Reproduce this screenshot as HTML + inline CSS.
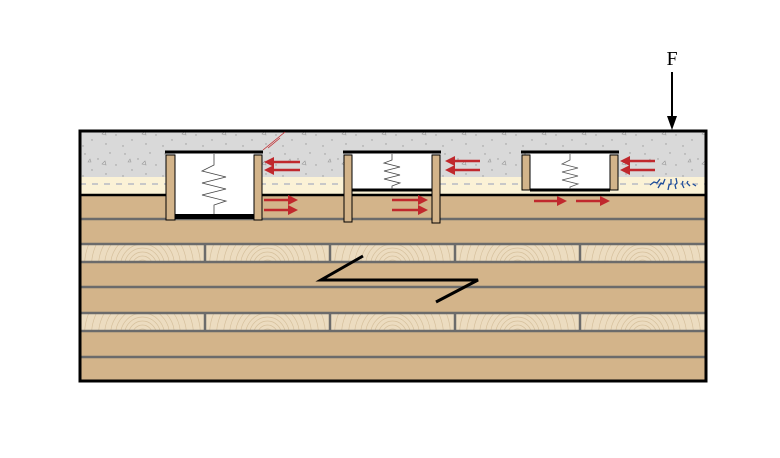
<!DOCTYPE html>
<html><head><style>body{margin:0;background:#fff}svg{display:block}</style></head><body>
<svg width="780" height="458" viewBox="0 0 780 458" xmlns="http://www.w3.org/2000/svg">
<defs>
<pattern id="conc" width="40" height="30" patternUnits="userSpaceOnUse">
<rect width="40" height="30" fill="#d9d9d9"/>
<g fill="#999"><circle cx="5" cy="4" r="0.7"/><circle cx="18" cy="9" r="0.7"/><circle cx="30" cy="3" r="0.7"/><circle cx="12" cy="20" r="0.7"/><circle cx="26" cy="24" r="0.7"/><circle cx="36" cy="15" r="0.7"/><circle cx="3" cy="26" r="0.7"/></g>
<path d="M22 14 l3 -3 l1 4 z M8 12 l2 -3 l1 3z" fill="none" stroke="#999" stroke-width="0.6"/>
</pattern>
<pattern id="grain" width="125" height="18" patternUnits="userSpaceOnUse" x="80" y="244">
<rect width="125" height="18" fill="#ecdcc0"/>
<g fill="none" stroke="#d6c09c" stroke-width="0.7">
<circle cx="62.5" cy="22" r="6"/><circle cx="62.5" cy="22" r="10"/><circle cx="62.5" cy="22" r="14"/><circle cx="62.5" cy="22" r="18"/><circle cx="62.5" cy="22" r="22"/><circle cx="62.5" cy="22" r="27"/><circle cx="62.5" cy="22" r="32"/><circle cx="62.5" cy="22" r="38"/><circle cx="62.5" cy="22" r="44"/><circle cx="62.5" cy="22" r="51"/><circle cx="62.5" cy="22" r="58"/>
</g></pattern>
<pattern id="grain2" width="125" height="18" patternUnits="userSpaceOnUse" x="80" y="313">
<rect width="125" height="18" fill="#ecdcc0"/>
<g fill="none" stroke="#d6c09c" stroke-width="0.7">
<circle cx="62.5" cy="22" r="6"/><circle cx="62.5" cy="22" r="10"/><circle cx="62.5" cy="22" r="14"/><circle cx="62.5" cy="22" r="18"/><circle cx="62.5" cy="22" r="22"/><circle cx="62.5" cy="22" r="27"/><circle cx="62.5" cy="22" r="32"/><circle cx="62.5" cy="22" r="38"/><circle cx="62.5" cy="22" r="44"/><circle cx="62.5" cy="22" r="51"/><circle cx="62.5" cy="22" r="58"/>
</g></pattern>
</defs>
<text x="672" y="65" font-family="Liberation Serif, serif" font-size="20" text-anchor="middle">F</text>
<line x1="672" y1="72" x2="672" y2="118" stroke="#000" stroke-width="2"/>
<polygon points="667,116 677,116 672,130" fill="#000"/>
<rect x="80" y="131" width="626" height="250" fill="#d3b48a"/>
<rect x="80" y="131" width="626" height="46" fill="url(#conc)"/>
<rect x="80" y="177" width="626" height="18" fill="#fbf2d6"/>
<line x1="80" y1="184" x2="706" y2="184" stroke="#c8c8c8" stroke-width="2" stroke-dasharray="6,6"/>
<rect x="81" y="244" width="624" height="18" fill="url(#grain)"/>
<rect x="81" y="313" width="624" height="18" fill="url(#grain2)"/>
<g stroke="#6b6b6b" stroke-width="2.5">
<line x1="80" y1="219" x2="706" y2="219"/><line x1="80" y1="244" x2="706" y2="244"/><line x1="80" y1="262" x2="706" y2="262"/>
<line x1="80" y1="287" x2="706" y2="287"/><line x1="80" y1="313" x2="706" y2="313"/><line x1="80" y1="331" x2="706" y2="331"/><line x1="80" y1="357" x2="706" y2="357"/>
<path d="M205 244V262M330 244V262M455 244V262M580 244V262M205 313V331M330 313V331M455 313V331M580 313V331"/>
</g>
<line x1="80" y1="195" x2="706" y2="195" stroke="#000" stroke-width="2.5"/>
<rect x="80" y="131" width="626" height="250" fill="none" stroke="#000" stroke-width="3"/>
<rect x="175" y="153" width="79" height="65" fill="#fff"/>
<rect x="175" y="214" width="79" height="5" fill="#000"/>
<line x1="165" y1="152" x2="263" y2="152" stroke="#000" stroke-width="3"/>
<rect x="166" y="155" width="9" height="65" fill="#d3b48a" stroke="#000"/>
<rect x="254" y="155" width="8" height="65" fill="#d3b48a" stroke="#000"/>
<path d="M214 154V165L202 171L226 177L202 183L226 189L202 195L226 201L214 205V214" fill="none" stroke="#444" stroke-width="0.8"/>
<rect x="352" y="153" width="80" height="37" fill="#fff"/>
<line x1="352" y1="190" x2="432" y2="190" stroke="#000" stroke-width="3"/>
<line x1="343" y1="152" x2="441" y2="152" stroke="#000" stroke-width="3"/>
<rect x="344" y="155" width="8" height="67" fill="#d3b48a" stroke="#000"/>
<rect x="432" y="155" width="8" height="68" fill="#d3b48a" stroke="#000"/>
<path d="M392 154V160L384 163L400 167L384 171L400 175L384 179L400 183L392 186V189" fill="none" stroke="#444" stroke-width="0.8"/>
<rect x="530" y="153" width="80" height="37" fill="#fff"/>
<line x1="530" y1="190" x2="610" y2="190" stroke="#000" stroke-width="3"/>
<line x1="521" y1="152" x2="619" y2="152" stroke="#000" stroke-width="3"/>
<rect x="522" y="155" width="8" height="35" fill="#d3b48a" stroke="#000"/>
<rect x="610" y="155" width="8" height="35" fill="#d3b48a" stroke="#000"/>
<path d="M570 154V160L562 164L578 168L562 172L578 176L562 180L578 184L570 187V189" fill="none" stroke="#555" stroke-width="0.8"/>
<g fill="#c0282d" stroke="#c0282d" stroke-width="2.5">
<path d="M300 162H270M300 170H270M264 200H292M264 210H292M480 161H452M480 170H452M392 200H422M392 210H422M655 161H626M655 170H626M534 201H560M576 201H602"/>
<g stroke="none">
<polygon points="264,162 274,157 274,167"/><polygon points="264,170 274,165 274,175"/>
<polygon points="298,200 288,195 288,205"/><polygon points="298,210 288,205 288,215"/>
<polygon points="445,161 455,156 455,166"/><polygon points="445,170 455,165 455,175"/>
<polygon points="428,200 418,195 418,205"/><polygon points="428,210 418,205 418,215"/>
<polygon points="620,161 630,156 630,166"/><polygon points="620,170 630,165 630,175"/>
<polygon points="567,201 557,196 557,206"/><polygon points="610,201 600,196 600,206"/>
</g></g>
<path d="M263 150L285 132M268 148L280 138" stroke="#c0282d" stroke-width="0.8" fill="none"/>
<g stroke="#1f4e9a" stroke-width="1.3" fill="none">
<path d="M650 185l4-3 3 1 3-4M658 188l3-5 2 1 2-5M668 190l1-5 2-1 0-5M676 189l-1-4 2-2-1-5M684 188l-2-4 1-3M690 186l-3-3 1-2M696 186l-3-2"/>
</g>
<path d="M363 256L321 280H478L436 302" fill="none" stroke="#000" stroke-width="3"/>
</svg>
</body></html>
